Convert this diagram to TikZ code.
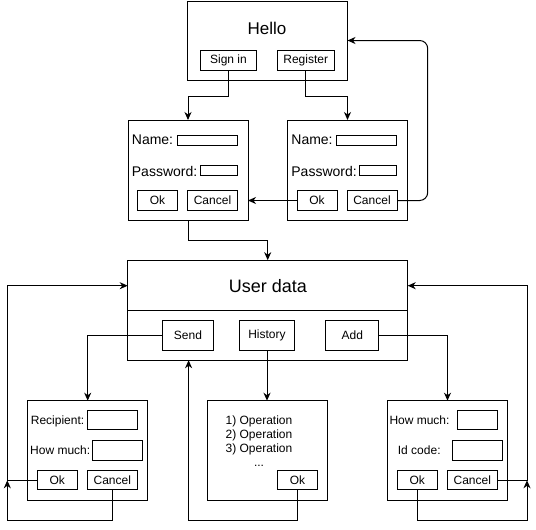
\documentclass[tikz,border=0pt]{standalone}
\usepackage{fontspec}
\setmainfont{Liberation Sans}
\usetikzlibrary{arrows.meta}
\begin{document}
\begin{tikzpicture}[x=1pt,y=-1pt,
  box/.style={draw, line width=1pt, inner sep=0pt, outer sep=0pt},
  btn/.style={box, font=\fontsize{12}{14}\selectfont},
  lbl/.style={inner sep=0pt, anchor=base west, font=\fontsize{12}{14}\selectfont},
  biglbl/.style={inner sep=0pt, anchor=base west, font=\fontsize{14}{16}\selectfont},
  histlbl/.style={inner sep=0pt, anchor=base, font=\fontsize{12}{14}\selectfont},
  arr/.style={line width=1pt, -{Stealth[length=8pt,width=7pt,inset=2.5pt]}},
  ln/.style={line width=1pt},
]
\useasboundingbox (0,0) rectangle (536,530);

% ---------- Hello ----------
\node[box, minimum width=160pt, minimum height=79pt] (hello) at (267.5,40.5) {};
\node[inner sep=0pt, font=\fontsize{17}{20}\selectfont] (hellot) at (267,28) {Hello};
\node[btn, minimum width=56pt, minimum height=20pt] (signin) at (228.5,60.2) {Sign in};
\node[btn, minimum width=57pt, minimum height=20pt] (register) at (305.7,60.2) {Register};

% ---------- login boxes ----------
\node[box, minimum width=120pt, minimum height=100pt] (login1) at (188,170) {};
\node[biglbl] (n1) at (131.7,144) {Name:};
\node[biglbl] (p1) at (131.7,176) {Password:};
\node[box, minimum width=60pt, minimum height=10pt] (nf1) at (207.3,140.3) {};
\node[box, minimum width=37.3pt, minimum height=10pt] (pf1) at (218.7,170.5) {};
\node[btn, minimum width=40pt, minimum height=20pt] (ok1) at (157.5,200.5) {Ok};
\node[btn, minimum width=50pt, minimum height=20pt] (cancel1) at (212.5,200.5) {Cancel};

\node[box, minimum width=120pt, minimum height=100pt] (login2) at (347.5,170) {};
\node[biglbl] (n2) at (291.2,144) {Name:};
\node[biglbl] (p2) at (291.2,176) {Password:};
\node[box, minimum width=60pt, minimum height=10pt] (nf2) at (366.8,140.3) {};
\node[box, minimum width=37.3pt, minimum height=10pt] (pf2) at (378.2,170.5) {};
\node[btn, minimum width=40pt, minimum height=20pt] (ok2) at (317,200.5) {Ok};
\node[btn, minimum width=50pt, minimum height=20pt] (cancel2) at (372,200.5) {Cancel};

% ---------- User data ----------
\node[box, minimum width=280pt, minimum height=100pt] (ud) at (267.7,310.2) {};
\node[inner sep=0pt, font=\fontsize{18}{21}\selectfont] (udt) at (268,286.5) {User data};
\coordinate (ydiv) at (0,310.7);
\draw[ln] (ud.west |- ydiv) -- (ud.east |- ydiv);
\node[btn, minimum width=50.6pt, minimum height=29.5pt] (send) at (188,335.3) {Send};
\node[btn, minimum width=55.4pt, minimum height=29.5pt] (history) at (267,335.3) {History};
\node[btn, minimum width=52.7pt, minimum height=29.5pt] (add) at (352.3,335.3) {Add};

% ---------- Send box ----------
\node[box, minimum width=120pt, minimum height=100pt] (sendbox) at (87.7,450.7) {};
\node[lbl] (rcp) at (30.7,424.3) {Recipient:};
\node[lbl] (hm1) at (30,454.3) {How much:};
\node[box, minimum width=50pt, minimum height=19.3pt] (rf) at (112.3,420.3) {};
\node[box, minimum width=50pt, minimum height=19.7pt] (hf1) at (117.3,450.2) {};
\node[btn, minimum width=40pt, minimum height=19.3pt] (oks) at (57.3,480.3) {Ok};
\node[btn, minimum width=50pt, minimum height=19.3pt] (cancels) at (112.3,480.3) {Cancel};

% ---------- History box ----------
\node[box, minimum width=120.4pt, minimum height=100pt] (hbox) at (267.5,450.7) {};
\node[histlbl] (op1) at (259,424.3) {1) Operation};
\node[histlbl] (op2) at (259,438.3) {2) Operation};
\node[histlbl] (op3) at (259,452.3) {3) Operation};
\node[histlbl] (op4) at (259,466.3) {...};
\node[btn, minimum width=40pt, minimum height=19.3pt] (okh) at (297.5,480.3) {Ok};

% ---------- Add box ----------
\node[box, minimum width=120pt, minimum height=100pt] (addbox) at (447.5,450.7) {};
\node[lbl] (hm2) at (389.3,424.3) {How much:};
\node[lbl] (idc) at (397.7,454.3) {Id code:};
\node[box, minimum width=40pt, minimum height=19.3pt] (hf2) at (477.3,420.3) {};
\node[box, minimum width=50pt, minimum height=19.7pt] (idf) at (477.3,450.2) {};
\node[btn, minimum width=40pt, minimum height=19.3pt] (oka) at (417.3,480.3) {Ok};
\node[btn, minimum width=50pt, minimum height=19.3pt] (canca) at (472.3,480.3) {Cancel};

% ---------- helper coordinates ----------
\coordinate (ya) at (0,96);
\coordinate (yb) at (0,240.3);
\coordinate (yud) at (0,285.7);
\coordinate (ybot) at (0,520.7);
\coordinate (xl) at (7.3,0);
\coordinate (xr) at (527,0);
\coordinate (xrl) at (427.7,0);
\coordinate (xh) at (188.6,0);
\coordinate (jl) at (oks.west -| xl);
\coordinate (jr) at (canca.east -| xr);

% ---------- connectors ----------
\draw[arr] (signin.south) -- (signin.south |- ya) -| (login1.north);
\draw[arr] (register.south) -- (register.south |- ya) -| (login2.north);
\draw[arr] (ok2.west) -- (ok2.west -| login1.east);
\draw[arr, rounded corners=8pt] (cancel2.east) -- (cancel2.east -| xrl) -- (xrl |- hello.east) -- (hello.east);
\draw[arr] (login1.south) -- (login1.south |- yb) -| (ud.north);
\draw[arr] (send.west) -| (sendbox.north);
\draw[arr] (history.south) -- (history.south |- hbox.north);
\draw[arr] (add.east) -| (addbox.north);
\draw[arr] (oks.west) -- (jl) -- (xl |- yud) -- (ud.west |- yud);
\draw[arr] (cancels.south) -- (cancels.south |- ybot) -- (xl |- ybot) -- (jl);
\draw[arr] (okh.south) -- (okh.south |- ybot) -- (xh |- ybot) -- (xh |- ud.south);
\draw[arr] (canca.east) -- (jr) -- (xr |- yud) -- (ud.east |- yud);
\draw[arr] (oka.south) -- (oka.south |- ybot) -- (xr |- ybot) -- (jr);
\end{tikzpicture}
\end{document}
